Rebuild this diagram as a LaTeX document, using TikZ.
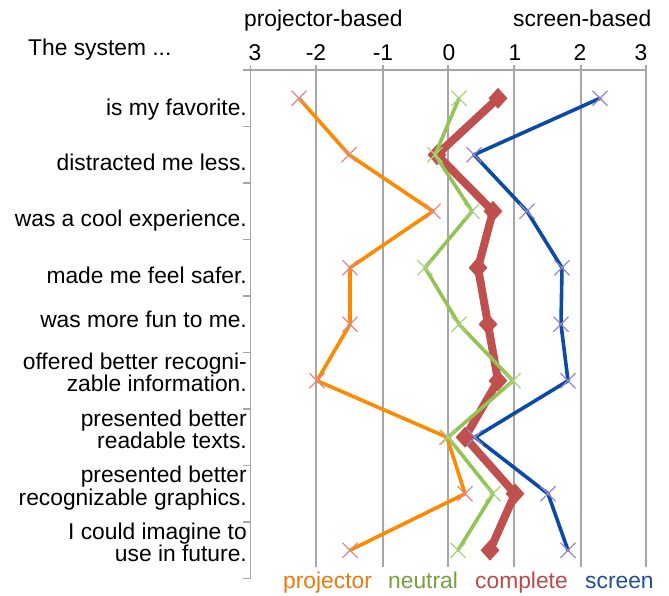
\documentclass[tikz,border=0pt]{standalone}
\usepackage{fontspec}
\setmainfont{Liberation Sans}
\usepackage{tikz}
\usetikzlibrary{shapes.misc,shapes.geometric}

\definecolor{gridgray}{HTML}{A6A6A6}
\definecolor{projline}{HTML}{FF8A00}
\definecolor{projmark}{HTML}{DB8A8E}
\definecolor{neutline}{HTML}{94C355}
\definecolor{neutmark}{HTML}{A9D27E}
\definecolor{compline}{HTML}{C0504D}
\definecolor{scrline}{HTML}{0B4BA6}
\definecolor{scrmark}{HTML}{9688CC}
\definecolor{projtext}{HTML}{E8790E}
\definecolor{neuttext}{HTML}{77A03C}
\definecolor{comptext}{HTML}{B94A48}
\definecolor{scrtext}{HTML}{1F4E9A}

\begin{document}
\begin{tikzpicture}[x=1pt,y=-1pt,
    gridline/.style={draw=gridgray,line width=1.4pt},
    txt/.style={inner sep=0pt,font=\fontsize{22.8}{18.4}\selectfont},
    rowlabel/.style={txt,anchor=base east,align=right},
    series/.style={line width=3.6pt,line join=round,line cap=round},
    xmark/.style={cross out,draw,line width=1.1pt,minimum size=14pt,inner sep=0pt},
    dmark/.style={diamond,fill=compline,minimum width=19pt,minimum height=21pt,inner sep=0pt}]

      \useasboundingbox (0,0) rectangle (669,595);

      % axes and grid
      \draw[gridline] (250.7,65) -- (250.7,578.5);
      \draw[gridline] (243,70) -- (646,70);
      \draw[gridline] (316,65) -- (316,567);
      \draw[gridline] (383,65) -- (383,567);
      \draw[gridline] (448,65) -- (448,567);
      \draw[gridline] (514,65) -- (514,567);
      \draw[gridline] (581,65) -- (581,567);
      \draw[gridline] (646,65) -- (646,567);
      \draw[gridline] (243,126.5) -- (250.7,126.5);
      \draw[gridline] (243,183) -- (250.7,183);
      \draw[gridline] (243,239.5) -- (250.7,239.5);
      \draw[gridline] (243,296) -- (250.7,296);
      \draw[gridline] (243,352.5) -- (250.7,352.5);
      \draw[gridline] (243,409) -- (250.7,409);
      \draw[gridline] (243,465.5) -- (250.7,465.5);
      \draw[gridline] (243,522) -- (250.7,522);
      \draw[gridline] (243,578.5) -- (250.7,578.5);

      % header
      \node[txt,anchor=base west] (sys) at (28,55){The system ...};
      \node[txt,anchor=base west] (pb) at (244,26.7){projector-based};
      \node[txt,anchor=base west] (sb) at (513,26.7){screen-based};
      \node[txt,anchor=base] (t0) at (255,60){3};
      \node[txt,anchor=base] (t1) at (316,60){-2};
      \node[txt,anchor=base] (t2) at (383,60){-1};
      \node[txt,anchor=base] (t3) at (449,60){0};
      \node[txt,anchor=base] (t4) at (515,60){1};
      \node[txt,anchor=base] (t5) at (580,60){2};
      \node[txt,anchor=base] (t6) at (641,60){3};

      % statements
      \node[rowlabel] (r1) at (247,115){is my favorite.};
      \node[rowlabel] (r2) at (247,170){distracted me less.};
      \node[rowlabel] (r3) at (247,226.7){was a cool experience.};
      \node[rowlabel] (r4) at (247,283.3){made me feel safer.};
      \node[rowlabel] (r5) at (247,327.5){was more fun to me.};
      \node[rowlabel] (r6) at (247,391.7){offered better recogni-\\zable information.};
      \node[rowlabel] (r7) at (247,448.3){presented better\ \\readable texts.};
      \node[rowlabel] (r8) at (247,505){presented better\ \\recognizable graphics.};
      \node[rowlabel] (r9) at (247,561.7){I could imagine to\ \\use in future.};

      % data points
      \coordinate (p1) at (299,98.25);
      \coordinate (p2) at (349,154.75);
      \coordinate (p3) at (433,211.25);
      \coordinate (p4) at (350,267.75);
      \coordinate (p5) at (350,324.25);
      \coordinate (p6) at (317,380.75);
      \coordinate (p7) at (447,437.25);
      \coordinate (p8) at (465,493.75);
      \coordinate (p9) at (350,550.25);

      \coordinate (n1) at (459,98.25);
      \coordinate (n2) at (435,154.75);
      \coordinate (n3) at (472,211.25);
      \coordinate (n4) at (425,267.75);
      \coordinate (n5) at (459,324.25);
      \coordinate (n6) at (513,380.75);
      \coordinate (n7) at (448,437.25);
      \coordinate (n8) at (493,493.75);
      \coordinate (n9) at (458,550.25);

      \coordinate (c1) at (498,98.25);
      \coordinate (c2) at (437,154.75);
      \coordinate (c3) at (493,211.25);
      \coordinate (c4) at (478,267.75);
      \coordinate (c5) at (488,324.25);
      \coordinate (c6) at (498,380.75);
      \coordinate (c7) at (465,437.25);
      \coordinate (c8) at (515,493.75);
      \coordinate (c9) at (490,550.25);

      \coordinate (s1) at (600,98.25);
      \coordinate (s2) at (474,154.75);
      \coordinate (s3) at (527,211.25);
      \coordinate (s4) at (562,267.75);
      \coordinate (s5) at (561,324.25);
      \coordinate (s6) at (568,380.75);
      \coordinate (s7) at (475,437.25);
      \coordinate (s8) at (548,493.75);
      \coordinate (s9) at (568,550.25);

      % complete
      \draw[series,compline,line width=8pt] (c1) -- (c2) -- (c3) -- (c4) -- (c5) -- (c6) -- (c7) -- (c8) -- (c9);
      \node[dmark] (dc1) at (c1){};
      \node[dmark] (dc2) at (c2){};
      \node[dmark] (dc3) at (c3){};
      \node[dmark] (dc4) at (c4){};
      \node[dmark] (dc5) at (c5){};
      \node[dmark] (dc6) at (c6){};
      \node[dmark] (dc7) at (c7){};
      \node[dmark] (dc8) at (c8){};
      \node[dmark] (dc9) at (c9){};

      % projector
      \draw[series,projline] (p1) -- (p2) -- (p3) -- (p4) -- (p5) -- (p6) -- (p7) -- (p8) -- (p9);
      \node[xmark,projmark] (xp1) at (p1){};
      \node[xmark,projmark] (xp2) at (p2){};
      \node[xmark,projmark] (xp3) at (p3){};
      \node[xmark,projmark] (xp4) at (p4){};
      \node[xmark,projmark] (xp5) at (p5){};
      \node[xmark,projmark] (xp6) at (p6){};
      \node[xmark,projmark] (xp7) at (p7){};
      \node[xmark,projmark] (xp8) at (p8){};
      \node[xmark,projmark] (xp9) at (p9){};

      % neutral
      \draw[series,neutline] (n1) -- (n2) -- (n3) -- (n4) -- (n5) -- (n6) -- (n7) -- (n8) -- (n9);
      \node[xmark,neutmark] (xn1) at (n1){};
      \node[xmark,neutmark] (xn2) at (n2){};
      \node[xmark,neutmark] (xn3) at (n3){};
      \node[xmark,neutmark] (xn4) at (n4){};
      \node[xmark,neutmark] (xn5) at (n5){};
      \node[xmark,neutmark] (xn6) at (n6){};
      \node[xmark,neutmark] (xn7) at (n7){};
      \node[xmark,neutmark] (xn8) at (n8){};
      \node[xmark,neutmark] (xn9) at (n9){};

      % screen
      \draw[series,scrline] (s1) -- (s2) -- (s3) -- (s4) -- (s5) -- (s6) -- (s7) -- (s8) -- (s9);
      \node[xmark,scrmark] (xs1) at (s1){};
      \node[xmark,scrmark] (xs2) at (s2){};
      \node[xmark,scrmark] (xs3) at (s3){};
      \node[xmark,scrmark] (xs4) at (s4){};
      \node[xmark,scrmark] (xs5) at (s5){};
      \node[xmark,scrmark] (xs6) at (s6){};
      \node[xmark,scrmark] (xs7) at (s7){};
      \node[xmark,scrmark] (xs8) at (s8){};
      \node[xmark,scrmark] (xs9) at (s9){};

      % legend
      \node[txt,anchor=base west,projtext] (lp) at (283,588){projector};
      \node[txt,anchor=base west,neuttext] (ln) at (388,588){neutral};
      \node[txt,anchor=base west,comptext] (lc) at (475,588){complete};
      \node[txt,anchor=base west,scrtext] (ls) at (585,588){screen};
    \end{tikzpicture}
\end{document}
